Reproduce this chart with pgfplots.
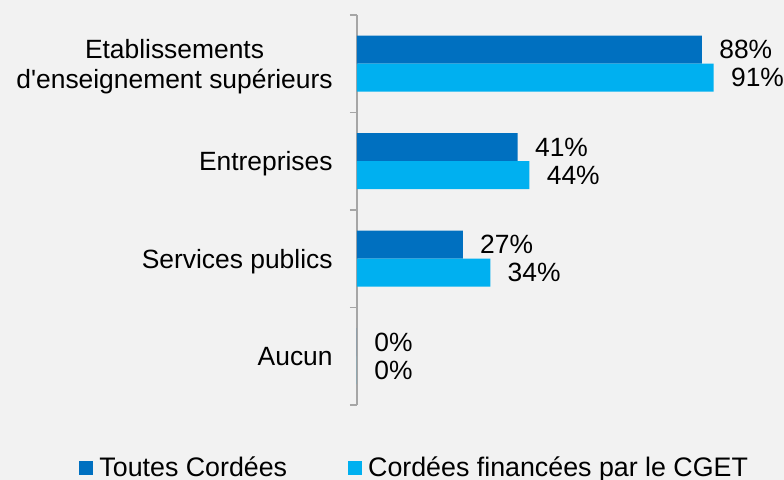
\documentclass[border=0pt]{standalone}
\usepackage{pgfplots}
\pgfplotsset{compat=1.18}
\usepackage{fontspec}
\setmainfont{Liberation Sans}
\definecolor{darkbar}{HTML}{0070C0}
\definecolor{lightbar}{HTML}{00B0F0}
\definecolor{bg}{HTML}{F2F2F2}
\definecolor{axgray}{HTML}{A6A6A6}
\begin{document}
\begin{tikzpicture}
\useasboundingbox (0,0) rectangle (392pt,240pt);
\fill[bg] (0,0) rectangle (392pt,240pt);
\begin{axis}[
  at={(178.5pt,37.5pt)}, anchor=south west,
  scale only axis, width=196pt, height=195pt,
  xbar, bar width=14pt,
  xmin=0, xmax=100, ymin=-0.5, ymax=3.5,
  clip=false,
  hide x axis,
  axis y line*=left,
  y axis line style={draw=axgray, line width=0.85pt},
  ytick={0,1,2,3},
  yticklabels={Aucun, Services publics, Entreprises, {Etablissements\\d\textquotesingle enseignement supérieurs}},
  major tick length=0pt,
  minor ytick={-0.5,0.5,1.5,2.5,3.5},
  minor tick length=3.5pt,
  tick align=outside,
  minor tick style={draw=axgray, line width=0.85pt},
  yticklabel style={align=center, font=\fontsize{13.2}{15}\selectfont, inner sep=0pt, text depth=0pt, anchor=east, xshift=-12pt},
  /pgf/number format/assume math mode=true,
  nodes near coords={\pgfmathprintnumber{\pgfplotspointmeta}\%},
  every node near coord/.append style={anchor=west, inner sep=0pt, xshift=8.5pt, text depth=0pt, text=black, font=\fontsize{13.2}{15}\selectfont},
  legend columns=2,
  legend style={at={(-0.709,-0.159)}, anchor=west, draw=none, fill=none, inner sep=0pt,
    font=\fontsize{13.4}{15}\selectfont, nodes={inner sep=0pt, text depth=0pt},
    /tikz/every odd column/.append style={column sep=3pt},
    /tikz/every even column/.append style={column sep=30.5pt}},
  legend cell align=left,
  legend image code/.code={\fill[#1] (0pt,-4pt) rectangle (7pt,3pt);},
]
\addplot[fill=darkbar, draw=none, bar shift=7pt] coordinates {(88,3) (41,2) (27,1) (0,0)};
\addplot[fill=lightbar, draw=none, bar shift=-7pt] coordinates {(91,3) (44,2) (34,1) (0,0)};
\legend{Toutes Cordées, Cordées financées par le CGET}
\end{axis}
\end{tikzpicture}
\end{document}
